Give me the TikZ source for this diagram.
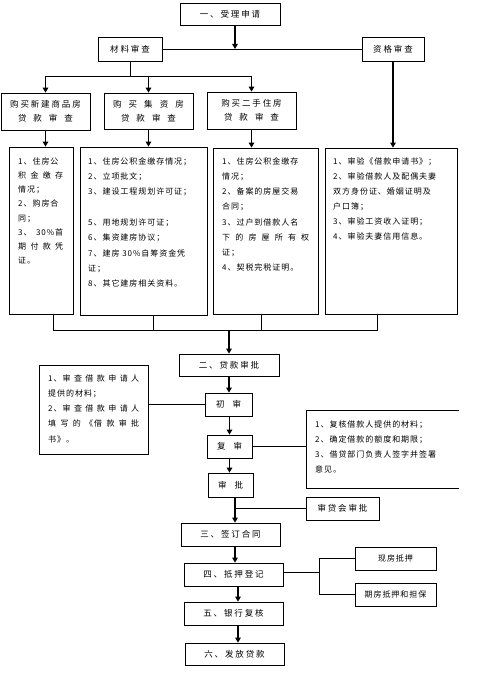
\documentclass[tikz,border=0pt]{standalone}
\usepackage{fontspec}
\newfontfamily\cjk[LetterSpace=12]{Noto Sans CJK SC}
\newfontfamily\cjkw[LetterSpace=22]{Noto Sans CJK SC}
\usetikzlibrary{arrows.meta}
\newcommand\J[2]{\makebox[#1pt][s]{#2}}
\tikzset{
  bx/.style={draw, line width=0.8pt, inner sep=0pt, font=\cjkw\fontsize{8.5}{14}\selectfont, align=center},
  tx/.style={font=\cjk\fontsize{8}{#1}\selectfont, align=left, anchor=north west, inner sep=0pt},
  arr/.style={line width=1.6pt, -{Triangle[length=5pt,width=5.5pt]}},
  ln/.style={line width=0.8pt},
}
\begin{document}
\begin{tikzpicture}[x=1pt,y=-1pt]
\useasboundingbox[fill=white] (0,0) rectangle (478,674);
% top
\node[bx, minimum width=100, minimum height=22] (n1) at (230,14) {一、受理申请};
\node[bx, minimum width=64, minimum height=24] (cl) at (130,49) {材料审查};
\node[bx, minimum width=62, minimum height=24] (zg) at (393,49) {资格审查};
\draw[ln] (cl.east) -- (zg.west);
\draw[arr] ([xshift=5pt]n1.south) -- ([xshift=5pt]n1.south |- cl.east);
% loan type boxes
\node[bx, minimum width=89, minimum height=37] (b1) at (45.5,111.5) {购买新建商品房\\ \J{55}{贷 款 审 查}};
\node[bx, minimum width=89, minimum height=36] (b2) at (148.5,111) {\J{71}{购 买 集 资 房}\\ \J{55}{贷 款 审 查}};
\node[bx, minimum width=89, minimum height=37] (b3) at (251.5,110.5) {购买二手住房\\ \J{55}{贷 款 审 查}};
\coordinate (j1) at (130,76);
\draw[ln] (cl.south) -- (j1);
\draw[ln] (b1.north |- j1) -- (b3.north |- j1);
\draw[arr] (b1.north |- j1) -- (b1.north);
\draw[arr] (b2.north |- j1) -- (b2.north);
\draw[arr] (b3.north |- j1) -- (b3.north);
% detail boxes
\node[bx, minimum width=64, minimum height=167] (t1) at (41,230.5) {};
\node[bx, minimum width=127, minimum height=168] (t2) at (143.5,231) {};
\node[bx, minimum width=105, minimum height=166] (t3) at (265.5,231) {};
\node[bx, minimum width=132, minimum height=166] (t4) at (391,231) {};
\draw[arr] (b1.south) -- (b1.south |- t1.north);
\draw[arr] (b2.south) -- (b2.south |- t2.north);
\draw[arr] (b3.south) -- (b3.south |- t3.north);
\draw[arr] (zg.south) -- (zg.south |- t4.north);
\node[tx=14.2] (x1) at (18,157.4) {1、住房公\\ \J{45}{积 金 缴 存}\\ 情况；\\ 2、购房合\\ 同；\\ \J{45}{3、 30\%首}\\ \J{45}{期 付 款 凭}\\ 证。};
\node[tx=15.3] (x2) at (88,157.4) {1、住房公积金缴存情况；\\ 2、立项批文；\\ 3、建设工程规划许可证；\\ \mbox{}\\ 5、用地规划许可证；\\ 6、集资建房协议；\\ 7、建房 30\%自筹资金凭\\ 证；\\ 8、其它建房相关资料。};
\node[tx=15.2] (x3) at (222,157.4) {1、住房公积金缴存\\ 情况；\\ 2、备案的房屋交易\\ 合同；\\ 3、过户到借款人名\\ \J{87}{下 的 房 屋 所 有 权}\\ 证；\\ 4、契税完税证明。};
\node[tx=15] (x4) at (333,157.4) {1、审验《借款申请书》；\\ 2、审验借款人及配偶夫妻\\ 双方身份证、婚姻证明及\\ 户口簿；\\ 3、审验工资收入证明；\\ 4、审验夫妻信用信息。};
% merge lines
\coordinate (c1) at (53,330);
\coordinate (c2) at (153,330);
\coordinate (c3) at (261,330);
\coordinate (c4) at (377,330);
\coordinate (c0) at (229,330);
\draw[ln] (c1 |- t1.south) -- (c1) -- (c4) -- (c4 |- t4.south);
\draw[ln] (c2 |- t2.south) -- (c2);
\draw[ln] (c3 |- t3.south) -- (c3);
% approval
\node[bx, minimum width=100, minimum height=22] (n2) at (229,365) {二、贷款审批};
\draw[arr] (c0) -- (n2.north);
\node[bx, minimum width=47, minimum height=23] (cs) at (228.5,404.5) {\J{25}{初 审}};
\node[bx, minimum width=45, minimum height=23] (fs) at (229.5,446.5) {\J{25}{复 审}};
\node[bx, minimum width=45, minimum height=24] (sp) at (230.5,485) {\J{25}{审 批}};
\draw[arr] (n2.south) -- (n2.south |- cs.north);
\draw[arr] (fs.north |- cs.south) -- (fs.north);
\draw[arr] (fs.south) -- (fs.south |- sp.north);
\node[bx, minimum width=109, minimum height=89] (lb) at (93.5,409.5) {};
\node[tx=15.2] (xl) at (48,374.4) {\J{91}{1、审 查 借 款 申 请 人}\\ 提供的材料；\\ \J{91}{2、审 查 借 款 申 请 人}\\ \J{91}{填 写 的 《借 款 审 批}\\ 书》。};
\draw[ln] (lb.east |- cs.west) -- (cs.west);
\node[inner sep=0pt, minimum width=152, minimum height=77] (rb) at (383,449.5) {};
\draw[ln] (rb.north east) -- (rb.north west) -- (rb.south west) -- (rb.south east);
\node[tx=15] (xr) at (315,420.4) {1、复核借款人提供的材料；\\ 2、确定借款的额度和期限；\\ 3、借贷部门负责人签字并签署\\ 意见。};
\draw[ln] (fs.east) -- (fs.east -| rb.west);
\node[bx, minimum width=73, minimum height=23] (sd) at (342.5,508.5) {审贷会审批};
% later steps
\node[bx, minimum width=99, minimum height=23] (n3) at (230.5,534.5) {三、签订合同};
\node[bx, minimum width=99, minimum height=23] (n4) at (233.5,574.5) {四、抵押登记};
\node[bx, minimum width=99, minimum height=23] (n5) at (233.5,613.5) {五、银行复核};
\node[bx, minimum width=99, minimum height=22] (n6) at (234.5,654) {六、发放贷款};
\draw[arr] ([xshift=4.5pt]sp.south) -- ([xshift=4.5pt]sp.south |- n3.north);
\draw[ln] ([xshift=4.5pt]sp.south |- sd.west) -- (sd.west);
\draw[arr] ([xshift=4.5pt]n3.south) -- ([xshift=4.5pt]n3.south |- n4.north);
\draw[arr] ([xshift=4.5pt]n4.south) -- ([xshift=4.5pt]n4.south |- n5.north);
\draw[arr] ([xshift=4.5pt]n5.south) -- ([xshift=4.5pt]n5.south |- n6.north);
\node[bx, font=\cjk\fontsize{8}{14}\selectfont, minimum width=81, minimum height=23] (xf) at (395.5,558.5) {现房抵押};
\node[bx, font=\cjk\fontsize{8}{14}\selectfont, minimum width=81, minimum height=23] (qf) at (395.5,594.5) {期房抵押和担保};
\coordinate (br) at (319,577);
\draw[ln] ([yshift=2.5pt]n4.east) -- ([yshift=2.5pt]n4.east -| br);
\draw[ln] (xf.west) -- (xf.west -| br) -- (qf.west -| br) -- (qf.west);
\end{tikzpicture}
\end{document}
